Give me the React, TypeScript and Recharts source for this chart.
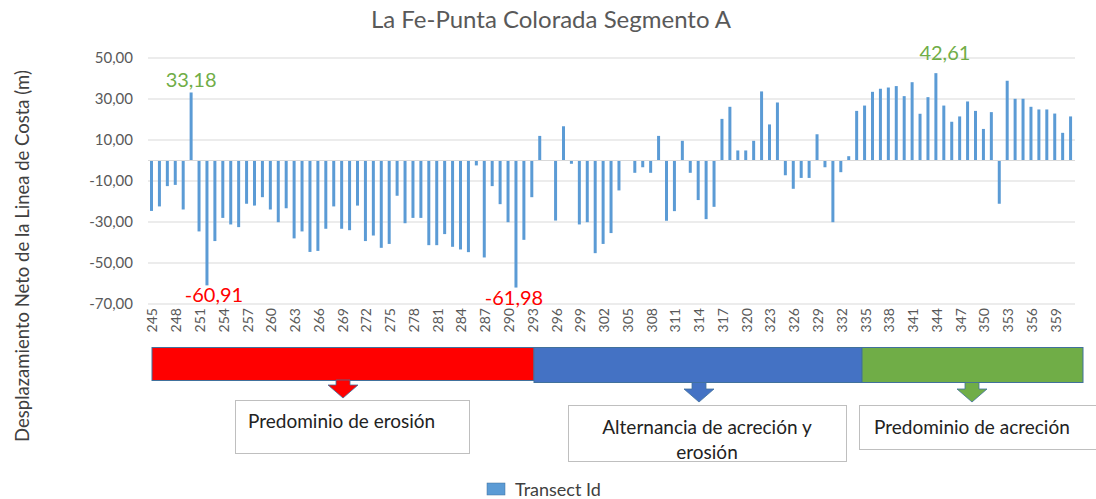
import React from 'react';
import { BarChart, Bar, XAxis, YAxis, CartesianGrid, ReferenceLine, LabelList } from 'recharts';

const transectIds: number[] = [
  245, 246, 247, 248, 249, 250, 251, 252, 253, 254, 255, 256, 257, 258, 259, 260, 261, 262, 263, 264,
  265, 266, 267, 268, 269, 270, 271, 272, 273, 274, 275, 276, 277, 278, 279, 280, 281, 282, 283, 284,
  285, 286, 287, 288, 289, 290, 291, 292, 293, 294, 295, 296, 297, 298, 299, 300, 301, 302, 303, 304,
  305, 306, 307, 308, 309, 310, 311, 312, 313, 314, 315, 316, 317, 318, 319, 320, 321, 322, 323, 324,
  325, 326, 327, 328, 329, 330, 331, 332, 333, 334, 335, 336, 337, 338, 339, 340, 341, 342, 343, 344,
  345, 346, 347, 348, 349, 350, 351, 352, 353, 354, 355, 356, 357, 358, 359, 360, 361,
];

const displacement: number[] = [
  -24.6, -22.4, -12.5, -11.9, -23.9, 33.18, -34.6, -60.91, -39.3, -28.0,
  -31.2, -32.5, -21.1, -22.0, -17.9, -23.9, -30.1, -23.3, -38.0, -34.6,
  -44.6, -44.1, -33.3, -22.4, -33.3, -34.0, -22.0, -39.3, -36.6, -42.6,
  -40.7, -17.2, -30.6, -28.0, -28.0, -41.3, -41.3, -35.9, -42.1, -43.4,
  -44.7, -2.4, -47.3, -12.5, -21.3, -30.1, -61.98, -38.7, -17.9, 12.0,
  0, -29.3, 16.7, -1.6, -31.2, -30.1, -45.2, -40.7, -35.4, -14.6,
  0, -6.0, -3.3, -6.0, 12.0, -29.4, -24.7, 9.6, -6.0, -19.3,
  -28.6, -22.6, 20.3, 26.2, 4.9, 4.9, 9.6, 33.7, 17.6, 28.3,
  -7.2, -13.8, -8.5, -8.5, 12.8, -3.3, -30.1, -5.7, 2.1, 24.2,
  26.8, 33.5, 35.0, 35.6, 36.3, 31.4, 38.2, 22.8, 30.9, 42.61,
  26.8, 18.9, 21.5, 28.8, 24.2, 15.4, 23.6, -21.1, 38.9, 30.1,
  30.1, 26.2, 24.9, 24.9, 22.9, 13.5, 21.5,
];

const yTicks: number[] = [-70, -50, -30, -10, 10, 30, 50];
const highlightedIds: number[] = [250, 252, 291, 344];

const chartData = transectIds.map((id, i) => ({ id: String(id), value: displacement[i] }));

const fmt = (v: number) => v.toFixed(2).replace('.', ',');

const labelShift: Record<string, [number, number]> = {
  '250': [0, -13],
  '252': [7, 9],
  '291': [-2, 9],
  '344': [9, -21],
};

const FONT = 'Lato, "Open Sans", sans-serif';

const renderLabel = (props: any) => {
  const { x, y, width, height, value } = props;
  const v = Number(value);
  const i = displacement.findIndex((d, k) => d === v && highlightedIds.includes(transectIds[k]));
  if (i < 0) return null;
  const id = transectIds[i];
  const top = Math.min(y, y + height);
  const bottom = Math.max(y, y + height);
  const [dx, dy] = labelShift[String(id)] || [0, 0];
  const cx = x + width / 2 + dx;
  const cy = (v >= 0 ? top : bottom) + dy;
  return (
    <text
      key={`lab-${id}`}
      x={cx}
      y={cy}
      textAnchor="middle"
      dominantBaseline="central"
      fill={v >= 0 ? '#70AD47' : '#FF0000'}
      fontSize={20}
      fontFamily={FONT}
    >
      {fmt(v)}
    </text>
  );
};

const XTick = (props: any) => {
  const { x, y, payload } = props;
  return (
    <text
      x={x}
      y={y}
      transform={`rotate(-90 ${x} ${y})`}
      textAnchor="end"
      dominantBaseline="central"
      fill="#595959"
      fontSize={14}
      fontFamily={FONT}
    >
      {payload.value}
    </text>
  );
};

export default function App() {
  return (
    <div style={{ position: 'absolute', left: 0, top: 0, width: 1096, height: 499, background: '#fff', fontFamily: FONT }}>
      <BarChart
        width={1096}
        height={499}
        data={chartData}
        margin={{ top: 58, right: 21, bottom: 165, left: 88 }}
      >
        <CartesianGrid vertical={false} stroke="#D9D9D9" />
        <XAxis
          dataKey="id"
          interval={2}
          axisLine={false}
          tickLine={false}
          tickSize={0}
          tickMargin={4}
          height={30}
          tick={<XTick />}
        />
        <YAxis
          domain={[-70, 50]}
          ticks={yTicks}
          width={60}
          axisLine={false}
          tickLine={false}
          tickSize={0}
          tickMargin={15}
          tickFormatter={fmt}
          tick={{ fill: '#595959', fontSize: 15, fontFamily: FONT }}
        />
        <ReferenceLine y={0} stroke="#D9D9D9" strokeWidth={1} />
        <Bar dataKey="value" fill="#5B9BD5" barSize={3} isAnimationActive={false}>
          <LabelList dataKey="value" content={renderLabel} />
        </Bar>
      </BarChart>

      <svg
        width={1096}
        height={499}
        style={{ position: 'absolute', left: 0, top: 0, pointerEvents: 'none' }}
      >
        <text x={551} y={18} textAnchor="middle" dominantBaseline="central" fill="#595959" fontSize={24} fontFamily={FONT}>
          La Fe-Punta Colorada Segmento A
        </text>
        <text
          x={22}
          y={256}
          transform="rotate(-90 22 256)"
          textAnchor="middle"
          dominantBaseline="central"
          fill="#404040"
          fontSize={18.5}
          fontFamily={FONT}
        >
          Desplazamiento Neto de la Linea de Costa (m)
        </text>

        {/* phase bars */}
        <rect x={152} y={347.5} width={382} height={33} fill="#FF0000" stroke="#41719C" strokeWidth={1} />
        <rect x={534} y={347.5} width={328} height={35} fill="#4472C4" stroke="#41719C" strokeWidth={1} />
        <rect x={862} y={347.5} width={221} height={35} fill="#70AD47" stroke="#41719C" strokeWidth={1} />

        {/* arrows */}
        <polygon points="336,380 350,380 350,385 358,385 343,398 328,385 336,385" fill="#FF0000" stroke="#41719C" strokeWidth={0.8} />
        <polygon points="692,382.5 706,382.5 706,389 714,389 699,402 684,389 692,389" fill="#4472C4" stroke="#41719C" strokeWidth={0.8} />
        <polygon points="965,382.5 979,382.5 979,389 987,389 972,402 957,389 965,389" fill="#70AD47" stroke="#41719C" strokeWidth={0.8} />

        {/* text boxes */}
        <rect x={235.5} y={400.5} width={234} height={53} fill="#fff" stroke="#BFBFBF" strokeWidth={1} />
        <text x={248} y={420} dominantBaseline="central" fill="#222" fontSize={19} fontFamily={FONT}>
          Predominio de erosión
        </text>
        <rect x={568.5} y={405.5} width={278} height={56} fill="#fff" stroke="#BFBFBF" strokeWidth={1} />
        <text x={707} y={426} textAnchor="middle" dominantBaseline="central" fill="#222" fontSize={19} fontFamily={FONT}>
          Alternancia de acreción y
        </text>
        <text x={707} y={451} textAnchor="middle" dominantBaseline="central" fill="#222" fontSize={19} fontFamily={FONT}>
          erosión
        </text>
        <rect x={859.5} y={405.5} width={240} height={44} fill="#fff" stroke="#BFBFBF" strokeWidth={1} />
        <text x={874} y={426} dominantBaseline="central" fill="#222" fontSize={19} fontFamily={FONT}>
          Predominio de acreción
        </text>

        {/* legend */}
        <rect x={487} y={483} width={18} height={12} fill="#5B9BD5" stroke="#41719C" strokeWidth={0.5} />
        <text x={515} y={488.5} dominantBaseline="central" fill="#404040" fontSize={18} fontFamily={FONT}>
          Transect Id
        </text>
      </svg>
    </div>
  );
}
